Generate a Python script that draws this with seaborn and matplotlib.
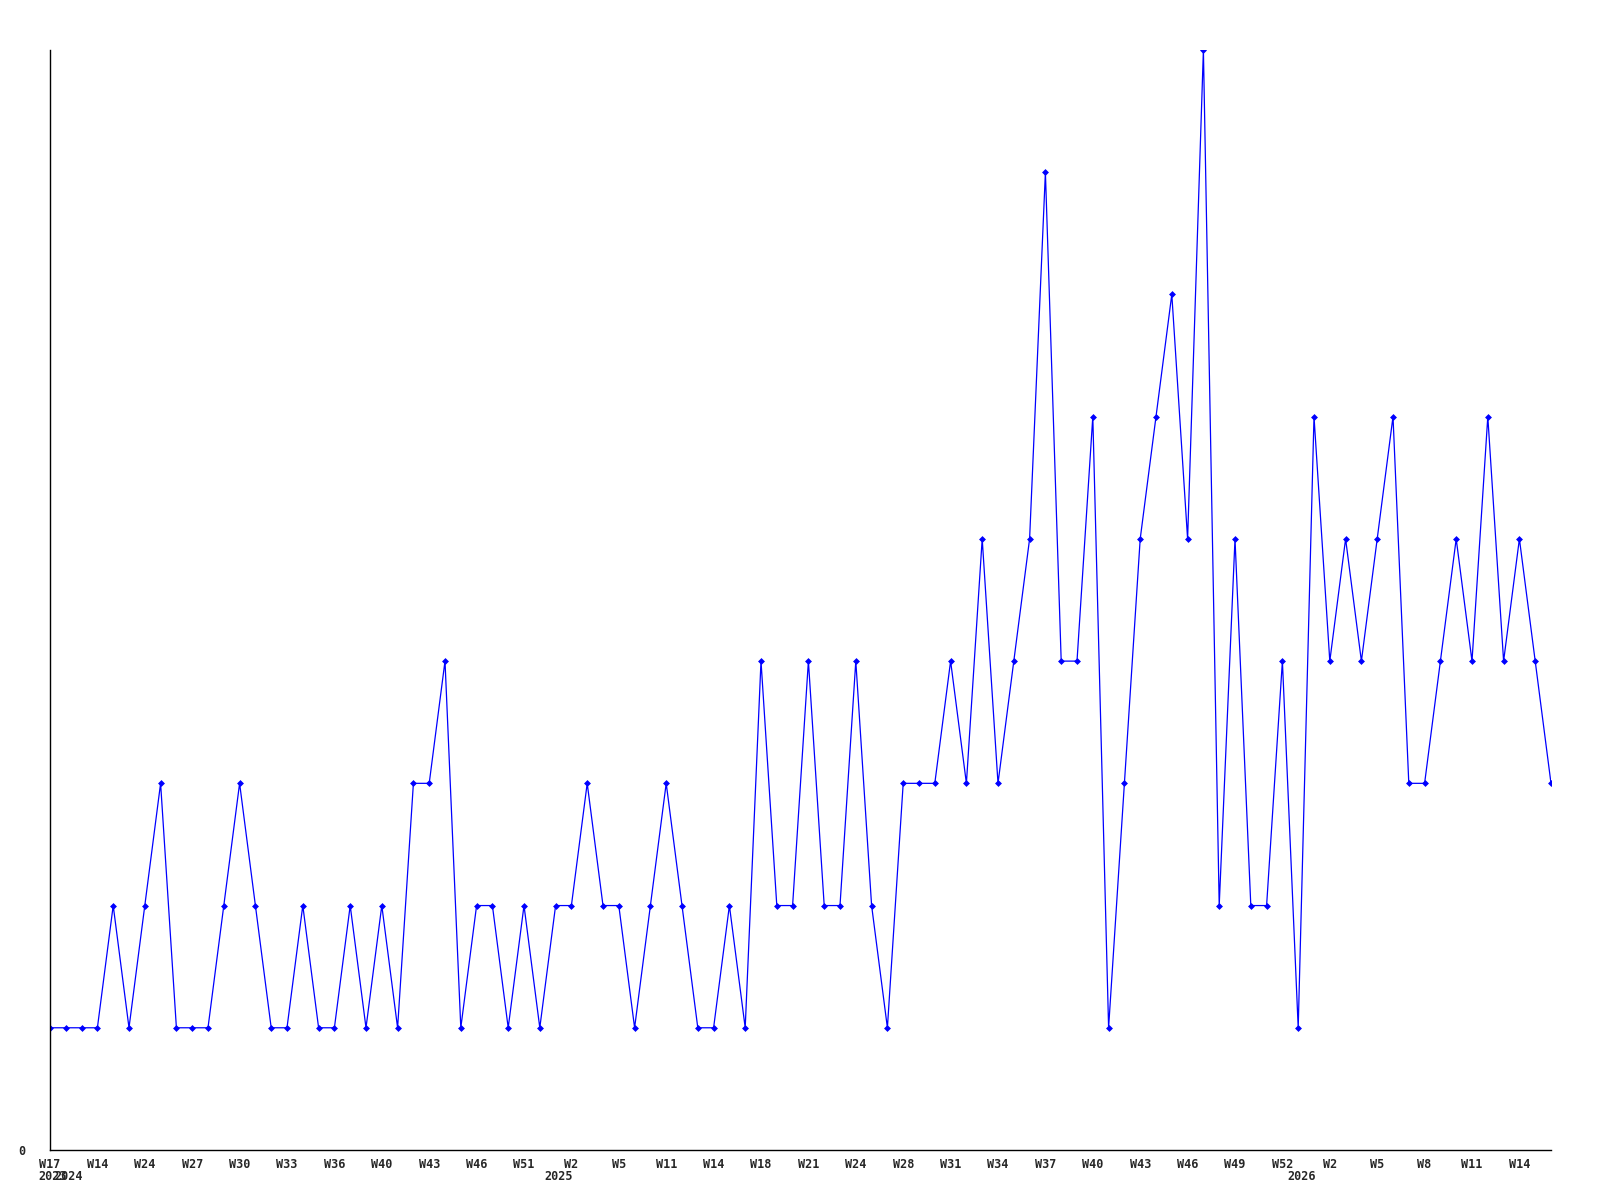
import matplotlib
matplotlib.use("Agg")
import matplotlib.pyplot as plt
import matplotlib.transforms as mtransforms
import seaborn as sns
import pandas as pd

values = [1, 1, 1, 1, 2, 1, 2, 3, 1, 1, 1, 2, 3, 2, 1, 1, 2, 1, 1, 2,
          1, 2, 1, 3, 3, 4, 1, 2, 2, 1, 2, 1, 2, 2, 3, 2, 2, 1, 2, 3,
          2, 1, 1, 2, 1, 4, 2, 2, 4, 2, 2, 4, 2, 1, 3, 3, 3, 4, 3, 5,
          3, 4, 5, 8, 4, 4, 6, 1, 3, 5, 6, 7, 5, 9, 2, 5, 2, 2, 4, 1,
          6, 4, 5, 4, 5, 6, 3, 3, 4, 5, 4, 6, 4, 5, 4, 3]

tick_positions = [0, 3, 6, 9, 12, 15, 18, 21, 24, 27, 30, 33, 36, 39, 42, 45,
                  48, 51, 54, 57, 60, 63, 66, 69, 72, 75, 78, 81, 84, 87, 90, 93]
tick_labels = ["W17", "W14", "W24", "W27", "W30", "W33", "W36", "W40", "W43",
               "W46", "W51", "W2", "W5", "W11", "W14", "W18", "W21", "W24",
               "W28", "W31", "W34", "W37", "W40", "W43", "W46", "W49", "W52",
               "W2", "W5", "W8", "W11", "W14"]
year_positions = [0, 1, 32, 79]
year_labels = ["2023", "2024", "2025", "2026"]

df = pd.DataFrame({"idx": range(len(values)), "value": values})

sns.set_style("white")
plt.rcParams["font.family"] = ["DejaVu Sans Mono", "DejaVu Sans"]

fig = plt.figure(figsize=(16, 12), dpi=100)
ax = fig.add_axes([50 / 1600, 1 - 1150 / 1200, 1501 / 1600, 1100 / 1200])

sns.lineplot(data=df, x="idx", y="value", ax=ax, color="#0000ff",
             linewidth=0.9, marker="D", markersize=3, markeredgewidth=0.5,
             markeredgecolor="#0000ff")

ax.set_xlim(0, len(values) - 1)
ax.set_ylim(0, 9)
ax.set_xlabel("")
ax.set_ylabel("")

for s in ["top", "right"]:
    ax.spines[s].set_visible(False)
for s in ["left", "bottom"]:
    ax.spines[s].set_color("black")
    ax.spines[s].set_linewidth(1)

ax.set_xticks(tick_positions)
ax.set_xticklabels(tick_labels, fontsize=8.5, fontweight="bold")
ax.set_yticks([0])
ax.set_yticklabels(["0"], fontsize=8.5, fontweight="bold")
ax.tick_params(axis="x", length=0, pad=6)
ax.tick_params(axis="y", length=0, pad=18)

trans = mtransforms.blended_transform_factory(ax.transData, ax.transAxes)
trans = trans + mtransforms.ScaledTranslation(3 / 100, 0, fig.dpi_scale_trans)
for pos, lab in zip(year_positions, year_labels):
    ax.text(pos, -27 / 1100, lab, transform=trans, ha="center", va="center",
            fontsize=8.5, fontweight="bold", clip_on=False)

fig.savefig("out.png", dpi=100, facecolor="white")
